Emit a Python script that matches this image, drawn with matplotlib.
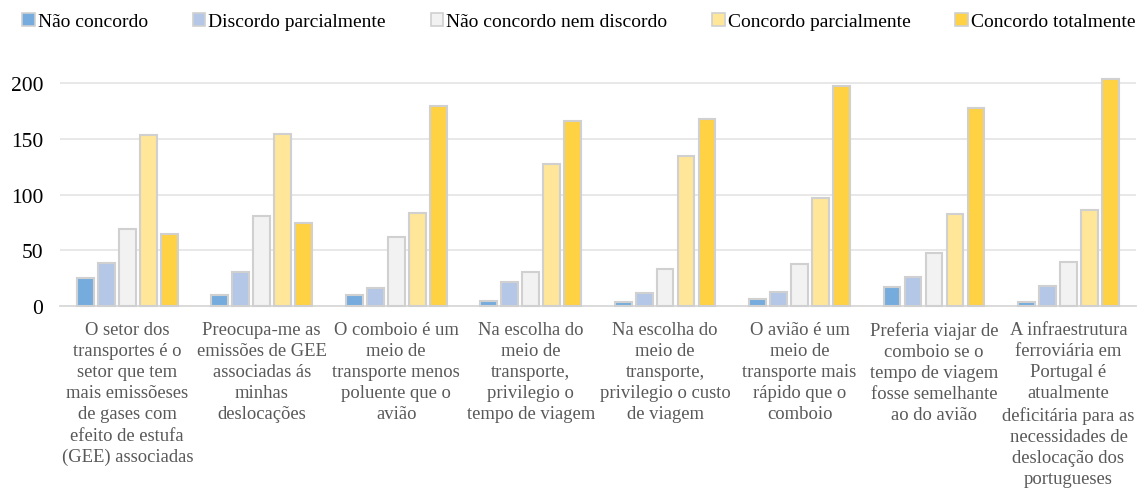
import numpy as np
import matplotlib.pyplot as plt
from matplotlib.patches import Patch

plt.rcParams['font.family'] = ['Liberation Serif', 'DejaVu Serif']

categories = [
    'O setor dos\ntransportes é o\nsetor que tem\nmais emissõeses\nde gases com\nefeito de estufa\n(GEE) associadas',
    'Preocupa-me as\nemissões de GEE\nassociadas ás\nminhas\ndeslocações',
    'O comboio é um\nmeio de\ntransporte menos\npoluente que o\navião',
    'Na escolha do\nmeio de\ntransporte,\nprivilegio o\ntempo de viagem',
    'Na escolha do\nmeio de\ntransporte,\nprivilegio o custo\nde viagem',
    'O avião é um\nmeio de\ntransporte mais\nrápido que o\ncomboio',
    'Preferia viajar de\ncomboio se o\ntempo de viagem\nfosse semelhante\nao do avião',
    'A infraestrutura\nferroviária em\nPortugal é\natualmente\ndeficitária para as\nnecessidades de\ndeslocação dos\nportugueses',
]

series_names = ['Não concordo', 'Discordo parcialmente', 'Não concordo nem discordo',
                'Concordo parcialmente', 'Concordo totalmente']

nao_concordo = [25, 10, 10, 5, 4, 6, 17, 4]
discordo_parc = [39, 31, 16, 22, 12, 13, 26, 18]
nem_nem = [69, 81, 62, 31, 33, 38, 48, 40]
concordo_parc = [154, 155, 84, 128, 135, 97, 83, 86]
concordo_tot = [65, 75, 180, 166, 168, 198, 178, 204]

series = [nao_concordo, discordo_parc, nem_nem, concordo_parc, concordo_tot]
colors = ['#75ACDD', '#B4C7E7', '#F2F2F2', '#FFE699', '#FFD243']

fig = plt.figure(figsize=(11.46, 4.89), dpi=100)
ax = fig.add_axes([0.0524, 0.372, 0.9386, 0.478])

x = np.arange(len(categories))
pitch = 0.156
w = 0.125
for i, (vals, c) in enumerate(zip(series, colors)):
    ax.bar(x + (i - 2) * pitch, vals, width=w, color=c, edgecolor='#D0D0D0',
           linewidth=1.5, zorder=3, clip_on=False)

ax.set_xlim(-0.5, len(categories) - 0.5)
ax.set_ylim(0, 210)
ax.set_yticks([0, 50, 100, 150, 200])
ax.yaxis.grid(True, color='#E6E6E6', linewidth=1.3, zorder=0)
ax.set_axisbelow(True)
for s in ['top', 'right', 'left']:
    ax.spines[s].set_visible(False)
ax.spines['bottom'].set_color('#D9D9D9')
ax.spines['bottom'].set_linewidth(1.3)
ax.tick_params(axis='y', length=0, pad=12, labelsize=15.5, labelcolor='#000000')
ax.tick_params(axis='x', length=0, pad=11)
ax.set_xticks(x)
ax.set_xticklabels(categories, fontsize=13.4, color='#595959', linespacing=1.31)

handles = [Patch(facecolor=c, edgecolor='#D0D0D0', linewidth=1.2) for c in colors]
fig.legend(handles, series_names, loc='upper center', bbox_to_anchor=(0.505, 1.0),
           ncol=5, frameon=False, fontsize=14, handlelength=0.65, handleheight=0.65,
           handletextpad=0.15, columnspacing=2.3, borderaxespad=0.3)

fig.savefig('out.png', dpi=100)
